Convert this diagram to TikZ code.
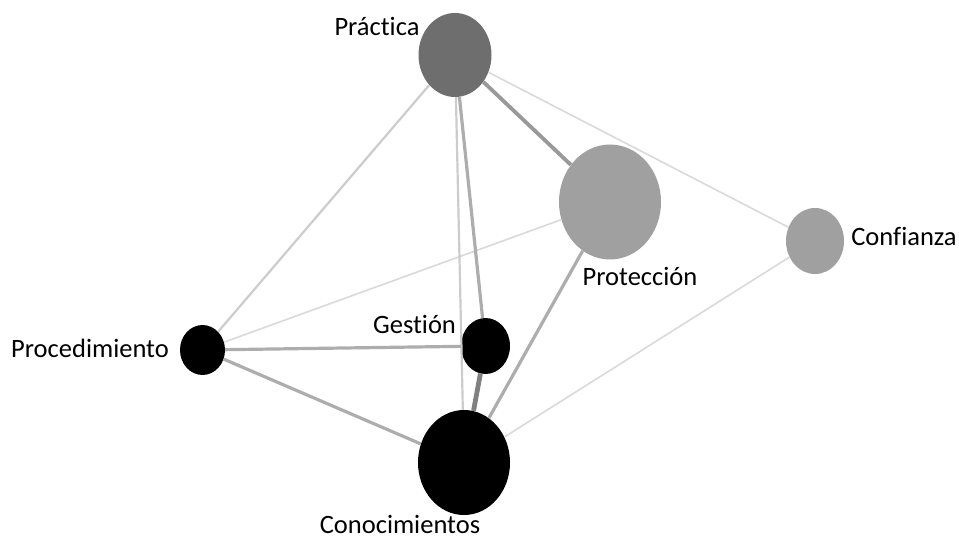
\documentclass[tikz,border=0pt]{standalone}
\usepackage{fontspec}
\setmainfont[Ligatures={NoCommon,NoRare,NoContextual}]{Carlito}
\usetikzlibrary{shapes.geometric}
\definecolor{ndark}{HTML}{6E6E6E}
\definecolor{nlight}{HTML}{A0A0A0}
\tikzset{
  vert/.style={ellipse, inner sep=0pt, draw=none},
  lbl/.style={anchor=base, inner sep=0pt, font=\fontsize{26.5}{30}\selectfont},
  ewA/.style={draw=black!15, line width=1.6pt},
  ewB/.style={draw=black!20, line width=2.2pt},
  ewC/.style={draw=black!32, line width=3.2pt},
  ewD/.style={draw=black!40, line width=3.8pt},
  ewE/.style={draw=black!50, line width=4.8pt},
}
\begin{document}
\begin{tikzpicture}[x=1pt,y=-1pt]
\useasboundingbox (0,0) rectangle (959,540);
\node[vert, fill=ndark, minimum width=73pt, minimum height=84pt] (prac) at (455,55) {};
\node[vert, fill=nlight, minimum width=102pt, minimum height=115pt] (prot) at (610,202) {};
\node[vert, fill=nlight, minimum width=58pt, minimum height=66pt] (conf) at (815,241) {};
\node[vert, fill=black, minimum width=45pt, minimum height=50pt] (proc) at (202.5,350) {};
\node[vert, fill=black, minimum width=49pt, minimum height=56pt] (gest) at (485.5,346) {};
\node[vert, fill=black, minimum width=92pt, minimum height=105pt] (cono) at (464,462.5) {};
\draw[ewB] (prac) -- (proc);
\draw[ewA] (prac) -- (conf);
\draw[ewA] (prot) -- (proc);
\draw[ewA] (conf) -- (cono);
\draw[ewB] (prac) -- (cono);
\draw[ewC] (prac) -- (gest);
\draw[ewC] (proc) -- (gest);
\draw[ewC] (proc) -- (cono);
\draw[ewC] (prot) -- (cono);
\draw[ewD] (prac) -- (prot);
\draw[ewE] (gest) -- (cono);
\node[lbl] (lprac) at (377,36) {Práctica};
\node[lbl] (lprot) at (640,286) {Protección};
\node[lbl] (lconf) at (904,246) {Confianza};
\node[lbl] (lproc) at (90,357) {Procedimiento};
\node[lbl] (lgest) at (414.5,333) {Gestión};
\node[lbl] (lcono) at (400,533.5) {Conocimientos};
\end{tikzpicture}
\end{document}
